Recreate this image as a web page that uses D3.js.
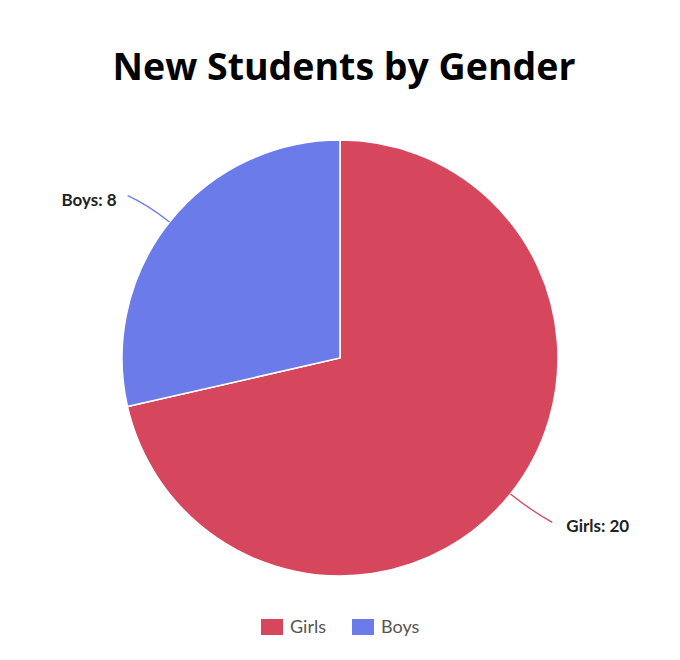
<!DOCTYPE html>
<html>
<head>
<meta charset="utf-8">
<script src="https://cdn.jsdelivr.net/npm/d3@7"></script>
<style>
  body { margin: 0; background: #fff; }
</style>
</head>
<body>
<svg></svg>
<script>
const categories = ['Girls', 'Boys']
const values = [20, 8]
const colors = ['#d6475e', '#6b7bea']

const width = 680
const height = 660
const cx = 340
const cy = 358
const radius = 218

const svg = d3.select('svg')
    .attr('width', width)
    .attr('height', height)

svg.append('text')
    .attr('x', 344)
    .attr('y', 80)
    .attr('text-anchor', 'middle')
    .style('font-family', '"Open Sans", sans-serif')
    .style('font-weight', 'bold')
    .style('font-size', '37.5px')
    .text('New Students by Gender')

const data = categories.map((c, i) => ({ name: c, value: values[i], color: colors[i] }))

const pie = d3.pie().sort(null).value(d => d.value)
const arc = d3.arc().innerRadius(0).outerRadius(radius)
const arcs = pie(data)

const g = svg.append('g').attr('transform', `translate(${cx}, ${cy})`)

g.selectAll('.slice')
    .data(arcs)
    .enter()
    .append('path')
    .attr('class', 'slice')
    .attr('d', arc)
    .attr('fill', d => d.data.color)
    .attr('stroke', '#fff')
    .attr('stroke-width', 1.5)

// connectors + labels
arcs.forEach(d => {
    const mid = (d.startAngle + d.endAngle) / 2
    const sx = Math.sin(mid), sy = -Math.cos(mid)
    const right = sx > 0
    const p0 = [sx * radius, sy * radius]
    const p1 = [sx * (radius + 28), sy * (radius + 28)]
    const p2 = [p1[0] + (right ? 20 : -20), p1[1] + (sy > 0 ? 11 : -9)]
    g.append('path')
        .attr('d', `M${p0[0]},${p0[1]} Q${p1[0]},${p1[1]} ${p2[0]},${p2[1]}`)
        .attr('fill', 'none')
        .attr('stroke', d.data.color)
        .attr('stroke-width', 1.3)
    g.append('text')
        .attr('x', p2[0] + (right ? 14 : -11))
        .attr('y', p2[1] + 10)
        .attr('text-anchor', right ? 'start' : 'end')
        .style('font-family', 'Lato, sans-serif')
        .style('font-weight', 'bold')
        .style('font-size', '17px')
        .attr('fill', '#222')
        .text(`${d.data.name}: ${d.data.value}`)
})

// legend
const legendX = [261, 352]
const legend = svg.append('g')
    .selectAll('g')
    .data(data)
    .enter()
    .append('g')
    .attr('transform', (d, i) => `translate(${legendX[i]}, 619)`)
legend.append('rect')
    .attr('width', 22)
    .attr('height', 16)
    .attr('fill', d => d.color)
legend.append('text')
    .attr('x', 29)
    .attr('y', 14)
    .style('font-family', 'Lato, sans-serif')
    .style('font-size', '18px')
    .attr('fill', '#555')
    .text(d => d.name)
</script>
</body>
</html>
